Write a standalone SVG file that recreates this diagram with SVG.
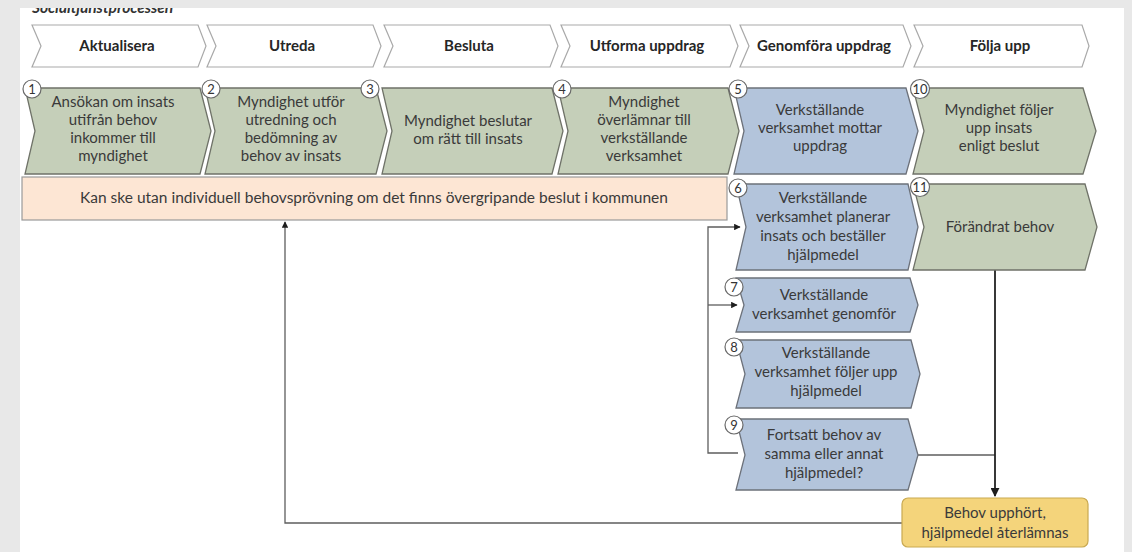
<svg xmlns="http://www.w3.org/2000/svg" width="1132" height="552" viewBox="0 0 1132 552">
<defs>
<style>
.hdr{fill:#ffffff;stroke:#a9a9a9;stroke-width:1.2}
.grn{fill:#c5cfb9;stroke:#6f7268;stroke-width:1.3}
.blu{fill:#b3c4db;stroke:#6c717a;stroke-width:1.3}
.num{fill:#ffffff;stroke:#6a6a6a;stroke-width:1.2}
text{font-family:Lato,"Liberation Sans",sans-serif;fill:#3a3a3a;text-anchor:middle}
.ht{font-size:15px;font-weight:bold;fill:#262626}
.bt{font-size:15px}
.nt{font-size:13px;fill:#333}
.con{fill:none;stroke:#5e5e5e;stroke-width:1.3}
.dark{fill:none;stroke:#222;stroke-width:1.8}
</style>
<marker id="arr" viewBox="0 0 10 10" refX="9" refY="5" markerWidth="5" markerHeight="5" orient="auto">
<path d="M0,0 L10,5 L0,10 z" fill="#1e1e1e"/>
</marker>
</defs>
<rect x="0" y="0" width="1132" height="552" fill="#e8e8e8"/>
<rect x="20" y="0" width="1104" height="552" fill="#ffffff"/>
<text x="32" y="13" style="font-size:15.5px;font-weight:bold;font-style:italic;text-anchor:start;fill:#333">Socialtjänstprocessen</text>
<rect x="0" y="0" width="1132" height="8" fill="#e8e8e8"/>

<g id="header">
<g id="h1"><path class="hdr" d="M32,25 H198 L206,46 L198,67 H32 L41,46 Z"/><text class="ht" x="117" y="51">Aktualisera</text></g>
<g id="h2"><path class="hdr" d="M207,25 H373 L381,46 L373,67 H207 L216,46 Z"/><text class="ht" x="292" y="51">Utreda</text></g>
<g id="h3"><path class="hdr" d="M384,25 H550 L558,46 L550,67 H384 L393,46 Z"/><text class="ht" x="469" y="51">Besluta</text></g>
<g id="h4"><path class="hdr" d="M561,25 H730 L738,46 L730,67 H561 L570,46 Z"/><text class="ht" x="647" y="51">Utforma uppdrag</text></g>
<g id="h5"><path class="hdr" d="M740,25 H903 L911,46 L903,67 H740 L749,46 Z"/><text class="ht" x="824" y="51">Genomföra uppdrag</text></g>
<g id="h6"><path class="hdr" d="M914,25 H1082 L1089,46 L1082,67 H914 L923,46 Z"/><text class="ht" x="1000" y="51">Följa upp</text></g>
</g>

<g id="connectors">
<path class="con" d="M738,453 H708 V227 H740" marker-end="url(#arr)"/>
<path class="con" d="M708,305 H737" marker-end="url(#arr)"/>
<path class="con" d="M918,455 H995"/>
<path class="dark" d="M995,270 V496" marker-end="url(#arr)"/>
<path class="con" d="M902,523 H285 V222" marker-end="url(#arr)"/>
</g>

<g id="n1"><path class="grn" d="M25,88 H200 L211,131 L200,174 H25 L35,131 Z"/>
<text class="bt" x="113"><tspan x="113" y="107">Ansökan om insats</tspan><tspan x="113" y="125">utifrån behov</tspan><tspan x="113" y="143">inkommer till</tspan><tspan x="113" y="161">myndighet</tspan></text>
<circle class="num" cx="32" cy="89" r="9"/><text class="nt" x="32" y="93.5">1</text></g>

<g id="n2"><path class="grn" d="M205,88 H376 L387,131 L376,174 H205 L215,131 Z"/>
<text class="bt" x="291"><tspan x="291" y="107">Myndighet utför</tspan><tspan x="291" y="125">utredning och</tspan><tspan x="291" y="143">bedömning av</tspan><tspan x="291" y="161">behov av insats</tspan></text>
<circle class="num" cx="211" cy="89" r="9"/><text class="nt" x="211" y="93.5">2</text></g>

<g id="n3"><path class="grn" d="M382,88 H552 L563,131 L552,174 H382 L392,131 Z"/>
<text class="bt" x="468"><tspan x="468" y="126">Myndighet beslutar</tspan><tspan x="468" y="144">om rätt till insats</tspan></text>
<circle class="num" cx="370" cy="89" r="9"/><text class="nt" x="370" y="93.5">3</text></g>

<g id="n4"><path class="grn" d="M558,88 H728 L739,131 L728,174 H558 L568,131 Z"/>
<text class="bt" x="644"><tspan x="644" y="107">Myndighet</tspan><tspan x="644" y="125">överlämnar till</tspan><tspan x="644" y="143">verkställande</tspan><tspan x="644" y="161">verksamhet</tspan></text>
<circle class="num" cx="562" cy="89" r="9"/><text class="nt" x="562" y="93.5">4</text></g>

<g id="n5"><path class="blu" d="M734,88 H906 L918,131 L906,174 H734 L744,131 Z"/>
<text class="bt" x="820"><tspan x="820" y="115">Verkställande</tspan><tspan x="820" y="133">verksamhet mottar</tspan><tspan x="820" y="151">uppdrag</tspan></text>
<circle class="num" cx="738" cy="89" r="9"/><text class="nt" x="738" y="93.5">5</text></g>

<g id="n10"><path class="grn" d="M913,88 H1083 L1096,131 L1083,174 H913 L924,131 Z"/>
<text class="bt" x="999"><tspan x="999" y="115">Myndighet följer</tspan><tspan x="999" y="133">upp insats</tspan><tspan x="999" y="151">enligt beslut</tspan></text>
<circle class="num" cx="920" cy="89" r="9.5"/><text class="nt" x="920" y="93.5">10</text></g>

<g id="note"><rect x="22" y="177" width="705" height="43" fill="#fde6d4" stroke="#9a9a9a" stroke-width="1.2"/>
<text x="374" y="203" style="font-size:15.5px">Kan ske utan individuell behovsprövning om det finns övergripande beslut i kommunen</text></g>

<g id="n6"><path class="blu" d="M736,184 H908 L918,227 L908,270 H736 L746,227 Z"/>
<text class="bt" x="823"><tspan x="823" y="203">Verkställande</tspan><tspan x="823" y="222">verksamhet planerar</tspan><tspan x="823" y="241">insats och beställer</tspan><tspan x="823" y="260">hjälpmedel</tspan></text>
<circle class="num" cx="738" cy="188" r="9"/><text class="nt" x="738" y="192.5">6</text></g>

<g id="n11"><path class="grn" d="M913,184 H1085 L1097,227 L1085,270 H913 L924,227 Z"/>
<text class="bt" x="1000" y="232">Förändrat behov</text>
<circle class="num" cx="920" cy="187" r="9.5"/><text class="nt" x="920" y="191.5">11</text></g>

<g id="n7"><path class="blu" d="M736,278 H910 L918,305 L910,332 H736 L744,305 Z"/>
<text class="bt" x="824"><tspan x="824" y="300">Verkställande</tspan><tspan x="824" y="319">verksamhet genomför</tspan></text>
<circle class="num" cx="734" cy="287" r="9"/><text class="nt" x="734" y="291.5">7</text></g>

<g id="n8"><path class="blu" d="M736,340 H911 L920,374 L911,408 H736 L745,374 Z"/>
<text class="bt" x="826"><tspan x="826" y="358">Verkställande</tspan><tspan x="826" y="377">verksamhet följer upp</tspan><tspan x="826" y="396">hjälpmedel</tspan></text>
<circle class="num" cx="734" cy="347" r="9"/><text class="nt" x="734" y="351.5">8</text></g>

<g id="n9"><path class="blu" d="M736,419 H908 L918,455 L908,490 H736 L745,455 Z"/>
<text class="bt" x="824"><tspan x="824" y="440">Fortsatt behov av</tspan><tspan x="824" y="459">samma eller annat</tspan><tspan x="824" y="478">hjälpmedel?</tspan></text>
<circle class="num" cx="734" cy="425" r="9"/><text class="nt" x="734" y="429.5">9</text></g>

<g id="n12"><rect x="902" y="498" width="186" height="49" rx="6" ry="6" fill="#f4d47b" stroke="#c9a951" stroke-width="1.2"/>
<text class="bt" x="995"><tspan x="995" y="518">Behov upphört,</tspan><tspan x="995" y="538">hjälpmedel återlämnas</tspan></text></g>
</svg>
